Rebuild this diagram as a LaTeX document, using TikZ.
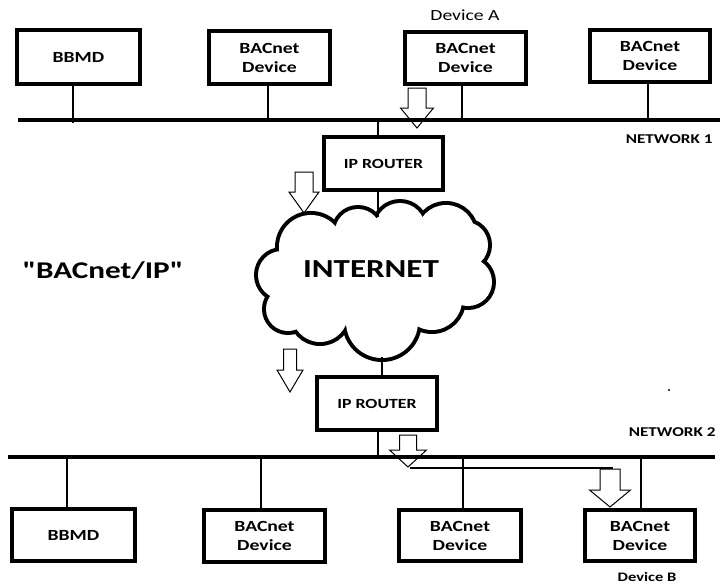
\documentclass[tikz,border=0pt]{standalone}
\usepackage{fontspec}
\setmainfont{Carlito}[FakeStretch=1.27]
\newfontfamily\straightq{Carlito}[FakeStretch=1.3,Ligatures=TeXOff]
\begin{document}
\begin{tikzpicture}[x=1pt,y=-1pt,
  box/.style={draw,line width=4.5pt,fill=white,align=center,font=\fontsize{15.5}{19}\selectfont\bfseries,inner sep=0pt},
  bus/.style={line width=4pt},
  stub/.style={line width=1.3pt},
  flow/.style={line width=1pt},
  netlabel/.style={font=\fontsize{13.5}{15}\selectfont\bfseries,anchor=east},
  cloudline/.style={line width=8pt}]
\useasboundingbox (0,0) rectangle (720,586);

% network buses
\coordinate (n1L) at (18,120);   \coordinate (n1R) at (720,120);
\coordinate (n2L) at (8,457);    \coordinate (n2R) at (715,457);
\draw[bus] (n1L) -- (n1R);
\draw[bus] (n2L) -- (n2R);

% network 1 devices
\node[box,minimum width=123pt,minimum height=54pt] (bbmd1) at (78.5,57) {BBMD};
\node[box,minimum width=121pt,minimum height=53pt] (dev1) at (269.5,57.5) {BACnet\\Device};
\node[box,minimum width=121pt,minimum height=52pt] (devA) at (465.5,58) {BACnet\\Device};
\node[box,minimum width=120pt,minimum height=52pt] (dev3) at (650,56) {BACnet\\Device};
\node[font=\fontsize{15.5}{19}\selectfont] (labA) at (465,15) {Device A};

\draw[stub] (bbmd1.south -| 73,0) -- (73,123);
\draw[stub] (dev1.south -| 268,0) -- (268,120);
\draw[stub] (devA.south -| 462,0) -- (462,120);
\draw[stub] (dev3.south -| 648,0) -- (648,120);

\node[netlabel] (net1) at (716,139) {NETWORK 1};

% routers
\node[box,font=\fontsize{14}{16}\selectfont\bfseries,minimum width=119pt,minimum height=53pt] (r1) at (383.5,163.5) {IP ROUTER};
\node[box,font=\fontsize{14}{16}\selectfont\bfseries,minimum width=120pt,minimum height=53pt] (r2) at (377,403.5) {IP ROUTER};

% internet cloud: outline of a union of circles
\def\puffs{(282,275) circle (24) (311,247) circle (32) (358,232) circle (23)
  (400,228) circle (25) (446,234) circle (29) (465,245) circle (23)
  (468,282) circle (24) (432,300) circle (30) (382,322) circle (36)
  (320,314) circle (28) (288,309) circle (22)}
\draw[cloudline] \puffs;
\fill[white] \puffs;
\fill[white] (375,275) ellipse [x radius=80, y radius=45];
\node[font=\fontsize{26}{30}\selectfont\bfseries] (inet) at (371,269) {INTERNET};
\coordinate (cloudtop) at (378,217);
\coordinate (cloudbot) at (382,357);

\coordinate (t1) at (378,120);
\coordinate (t2) at (378,457);
\draw[stub] (t1) -- (t1 |- r1.north);
\draw[stub] (r1.south -| cloudtop) -- (cloudtop);
\draw[stub] (cloudbot) -- (cloudbot |- r2.north);
\draw[stub] (r2.south -| t2) -- (t2);

\node[font=\straightq\fontsize{24}{28}\selectfont\bfseries] (bip) at (103,271) {"BACnet/IP"};

\node[netlabel] (net2) at (719,432) {NETWORK 2};
\fill (669,390) circle (1.1);

% network 2 devices
\node[box,minimum width=123pt,minimum height=52pt] (bbmd2) at (73.5,535) {BBMD};
\node[box,minimum width=121pt,minimum height=52pt] (dev4) at (264.5,536) {BACnet\\Device};
\node[box,minimum width=122pt,minimum height=51pt] (dev5) at (460,535.5) {BACnet\\Device};
\node[box,minimum width=110pt,minimum height=51pt] (devB) at (640,535.5) {BACnet\\Device};
\node[font=\fontsize{13}{15}\selectfont\bfseries] (labB) at (647,577) {Device B};

\draw[stub] (67,457) -- (bbmd2.north -| 67,0);
\draw[stub] (261,457) -- (dev4.north -| 261,0);
\draw[stub] (463,457) -- (dev5.north -| 463,0);
\draw[stub] (641,457) -- (devB.north -| 641,0);

% message path from router 2 to device B
\coordinate (p1) at (410,468);
\coordinate (p2) at (613,468);
\draw[line width=1.5pt] (p1) -- (p2);

% hollow arrows: centre x, top, head start, tip, shaft half width, head half width
\newcommand\hollowarrow[6]{%
  \draw[flow] (#1-#5,#2) -- (#1+#5,#2) -- (#1+#5,#3) -- (#1+#6,#3) -- (#1,#4)
    -- (#1-#6,#3) -- (#1-#5,#3) -- cycle;}
\hollowarrow{417}{88}{108}{128}{9}{16.5}
\hollowarrow{304}{172}{192}{213}{9}{15}
\hollowarrow{290}{349}{370}{392}{6.5}{13}
\hollowarrow{408}{435}{450}{467}{8.5}{18.5}
\hollowarrow{610}{469}{490}{507}{10}{20.5}
\end{tikzpicture}
\end{document}
